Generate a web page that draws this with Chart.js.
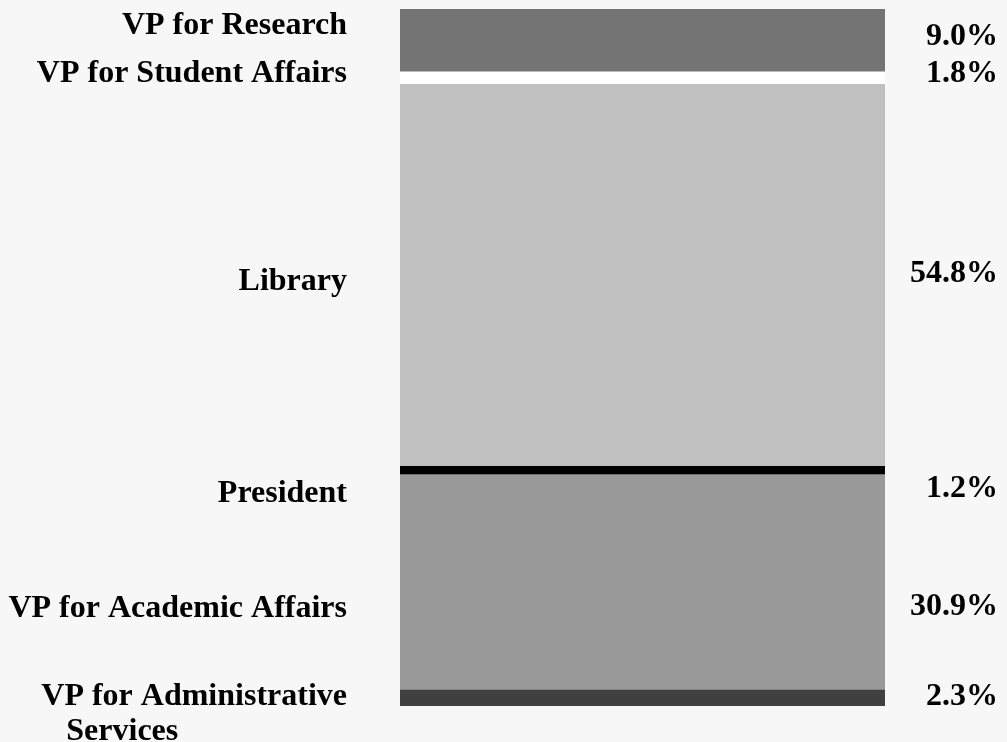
<!DOCTYPE html>
<html>
<head>
<meta charset="utf-8">
<script src="https://cdn.jsdelivr.net/npm/chart.js@4/dist/chart.umd.min.js"></script>
<style>
  html, body { margin: 0; padding: 0; background: #f7f7f7; }
  #wrap { width: 1007px; height: 742px; }
</style>
</head>
<body>
<div id="wrap"><canvas id="c" width="1007" height="742"></canvas></div>
<script>
// Data (bottom to top of the stacked bar)
const categories = ['VP for Administrative Services', 'VP for Academic Affairs', 'President', 'Library', 'VP for Student Affairs', 'VP for Research'];
const labelLines = [['VP for Administrative', 'Services'], ['VP for Academic Affairs'], ['President'], ['Library'], ['VP for Student Affairs'], ['VP for Research']];
const shares = [2.3, 30.9, 1.2, 54.8, 1.8, 9.0];
const valueLabels = ['2.3%', '30.9%', '1.2%', '54.8%', '1.8%', '9.0%'];
const colors = ['#404040', '#999999', '#000000', '#c0c0c0', '#ffffff', '#747474'];

// label baseline offsets from segment middle (layout only)
const leftOffsets = [7, 34.5, 32, 14.5, 4, -6.5];
const rightOffsets = [7, 32.5, 27, 6.5, 4, 4.5];

const labelPlugin = {
  id: 'sideLabels',
  afterDatasetsDraw(chart) {
    const ctx = chart.ctx;
    const area = chart.chartArea;
    ctx.save();
    ctx.fillStyle = '#000';
    ctx.font = 'bold 32px "Liberation Serif", "Times New Roman", serif';
    ctx.textBaseline = 'alphabetic';
    chart.data.datasets.forEach((ds, i) => {
      const el = chart.getDatasetMeta(i).data[0];
      const mid = (el.y + el.base) / 2;
      const lines = labelLines[i];
      const lx = area.left - 53;
      const ly = mid + leftOffsets[i];
      ctx.textAlign = 'right';
      ctx.fillText(lines[0], lx, ly);
      if (lines.length > 1) {
        const w = ctx.measureText(lines[0]).width;
        ctx.textAlign = 'left';
        for (let k = 1; k < lines.length; k++) {
          ctx.fillText(lines[k], lx - w + 25, ly + 35 * k);
        }
      }
      ctx.textAlign = 'right';
      ctx.fillText(valueLabels[i], area.right + 113, mid + rightOffsets[i]);
    });
    ctx.restore();
  }
};

new Chart(document.getElementById('c'), {
  type: 'bar',
  data: {
    labels: ['Share'],
    datasets: categories.map((name, i) => ({
      label: name,
      data: [shares[i]],
      backgroundColor: colors[i],
      borderWidth: 0,
      barPercentage: 1,
      categoryPercentage: 1
    }))
  },
  options: {
    responsive: false,
    animation: false,
    layout: { padding: { left: 400, right: 122, top: 9, bottom: 36 } },
    plugins: { legend: { display: false }, tooltip: { enabled: false } },
    scales: {
      x: { stacked: true, display: false },
      y: { stacked: true, display: false, min: 0, max: 100 }
    }
  },
  plugins: [labelPlugin]
});
</script>
</body>
</html>
